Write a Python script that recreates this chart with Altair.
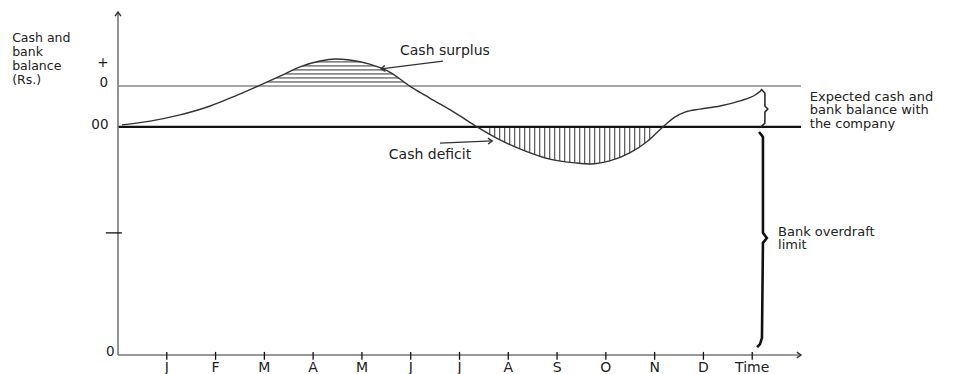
import math
import altair as alt
import pandas as pd

# ---------------- data ----------------
months = ["J", "F", "M", "A", "M", "J", "J", "A", "S", "O", "N", "D", "Time"]
month_pos = list(range(1, 14))

curve_x = [0.08, 0.66, 1.27, 1.89, 2.40, 2.87, 3.32, 3.73, 4.14, 4.45, 4.75, 5.16,
           5.57, 5.98, 6.39, 6.91, 7.36, 7.83, 8.34, 8.85, 9.37, 9.67, 10.08, 10.49,
           10.86, 11.17, 11.42, 11.62, 11.93, 12.34, 12.75, 13.06, 13.20]
curve_y = [67.1, 68.2, 70.0, 72.6, 75.5, 78.4, 81.3, 84.0, 85.7, 86.3, 86.0, 84.8,
           82.5, 78.4, 74.9, 70.6, 66.5, 62.7, 59.5, 57.1, 56.0, 55.7, 56.6, 58.9,
           62.4, 66.5, 69.4, 70.8, 71.7, 72.6, 74.1, 75.8, 77.3]

expected_level = 78.4      # "0" line (expected balance)
zero_level = 66.5          # "00" line
mid_tick_level = 35.6      # tick on the y axis
x_end = 14.0
y_top = 100.0

surplus_range = [2.85, 6.0]
deficit_range = [7.62, 10.94]

y_title = ["Cash and", "bank", "balance", "(Rs.)"]
y_title_y = [92.3, 88.3, 84.3, 80.3]
y_marks = ["+", "0", "00", "0"]
y_marks_x = [-0.31, -0.29, -0.37, -0.16]
y_marks_y = [85.1, 79.3, 67.1, 0.9]

expected_text = ["Expected cash and", "bank balance with", "the company"]
expected_text_y = [75.3, 71.4, 67.3]
overdraft_text = ["Bank overdraft", "limit"]
overdraft_text_y = [36.0, 32.0]

brace1_x = [13.18, 13.26, 13.26, 13.32, 13.26, 13.26, 13.18]
brace1_y = [77.55, 76.4, 72.6, 71.7, 70.8, 67.6, 66.5]
brace2_x = [13.14, 13.22, 13.22, 13.30, 13.22, 13.20, 13.16, 13.10]
brace2_y = [65.0, 63.6, 35.6, 34.1, 32.7, 5.0, 3.2, 2.3]

arrow_tail_x = [6.66, 6.60]
arrow_tail_y = [85.7, 61.8]
arrow_tip_x = [5.39, 7.67]
arrow_tip_y = [83.4, 62.4]

# ---------------- scales ----------------
W, H = 683, 343
xs = alt.Scale(domain=[0, x_end], nice=False, zero=False)
ys = alt.Scale(domain=[0, y_top], nice=False, zero=False)
PX_X = W / x_end
PX_Y = H / y_top


def X(f="x"):
    return alt.X(f"{f}:Q", scale=xs, axis=None)


def Y(f="y"):
    return alt.Y(f"{f}:Q", scale=ys, axis=None)


FONT = "DejaVu Sans"
INK = "#222222"

curve = pd.DataFrame({"x": curve_x, "y": curve_y, "o": range(len(curve_x))})

layers = []

# surplus hatching (horizontal)
step_h = 1.17
levels = []
lv = expected_level + 1.2
while lv < 86.6:
    levels.append(round(lv, 2))
    lv += step_h
hatch_h = pd.DataFrame({"x1": surplus_range[0], "x2": surplus_range[1], "y": levels})
layers.append(alt.Chart(hatch_h).mark_rule(color="#333", strokeWidth=1).encode(
    x=X("x1"), x2="x2:Q", y=Y("y")))

# deficit hatching (vertical)
step_v = 5 / PX_X
xs_v = []
xv = deficit_range[0]
while xv <= deficit_range[1] + 1e-6:
    xs_v.append(round(xv, 3))
    xv += step_v
hatch_v = pd.DataFrame({"x": xs_v, "y1": zero_level, "y2": 53.0})
layers.append(alt.Chart(hatch_v).mark_rule(color="#333", strokeWidth=1).encode(
    x=X("x"), y=Y("y1"), y2="y2:Q"))

# white masks trimming the hatching to the curve
mask_s = curve[(curve.x >= 2.40) & (curve.x <= 6.39)]
layers.append(alt.Chart(mask_s).mark_area(color="white", opacity=1, interpolate="monotone").encode(
    x=X("x"), y=Y("y"), y2=alt.datum(95)))
mask_d = curve[(curve.x >= 7.36) & (curve.x <= 11.17)]
layers.append(alt.Chart(mask_d).mark_area(color="white", opacity=1, interpolate="monotone").encode(
    x=X("x"), y=Y("y"), y2=alt.datum(50)))

# reference lines
lines = pd.DataFrame({"x1": [0, 0], "x2": [x_end, x_end],
                      "y": [expected_level, zero_level], "k": ["exp", "zero"]})
layers.append(alt.Chart(lines[lines.k == "exp"]).mark_rule(color="#888", strokeWidth=1.5).encode(
    x=X("x1"), x2="x2:Q", y=Y("y")))
layers.append(alt.Chart(lines[lines.k == "zero"]).mark_rule(color="#111", strokeWidth=2.2).encode(
    x=X("x1"), x2="x2:Q", y=Y("y")))

# the cash balance curve
layers.append(alt.Chart(curve).mark_line(color="#333", strokeWidth=1.4, interpolate="monotone").encode(
    x=X("x"), y=Y("y"), order="o:Q"))

# axes
axes = pd.DataFrame({"x1": [0, 0], "x2": [x_end, 0], "y1": [0, 0], "y2": [0, y_top]})
layers.append(alt.Chart(axes).mark_rule(color="#777", strokeWidth=1.6).encode(
    x=X("x1"), x2="x2:Q", y=Y("y1"), y2="y2:Q"))

ticks = pd.DataFrame({"x": month_pos, "y1": -1.4, "y2": 0.9, "lab": months, "ly": -3.9})
layers.append(alt.Chart(ticks).mark_rule(color="#111", strokeWidth=1.3).encode(
    x=X("x"), y=Y("y1"), y2="y2:Q"))
layers.append(alt.Chart(ticks).mark_text(font=FONT, fontSize=14, color=INK, baseline="middle").encode(
    x=X("x"), y=Y("ly"), text="lab:N"))

ytick = pd.DataFrame({"x1": [-0.25], "x2": [0.08], "y": [mid_tick_level]})
layers.append(alt.Chart(ytick).mark_rule(color="#111", strokeWidth=1.3).encode(
    x=X("x1"), x2="x2:Q", y=Y("y")))

# axis arrowheads + annotation arrows
heads = [
    {"x": x_end, "y": 0.0, "ang": 0.0},
    {"x": 0.0, "y": y_top, "ang": 270.0},
]
arrows = []
for tx, ty, hx, hy in zip(arrow_tail_x, arrow_tail_y, arrow_tip_x, arrow_tip_y):
    arrows.append({"x1": tx, "y1": ty, "x2": hx, "y2": hy})
    ang = math.degrees(math.atan2(-(hy - ty) * PX_Y, (hx - tx) * PX_X)) % 360
    heads.append({"x": hx, "y": hy, "ang": ang})
arrows = pd.DataFrame(arrows)
heads = pd.DataFrame(heads)
layers.append(alt.Chart(arrows).mark_rule(color="#333", strokeWidth=1.3).encode(
    x=X("x1"), x2="x2:Q", y=Y("y1"), y2="y2:Q"))
layers.append(alt.Chart(heads).mark_point(
    shape="M-1,-0.7L0,0L-1,0.7", filled=False, color="#333", strokeWidth=1.4, size=70, opacity=1
).encode(x=X("x"), y=Y("y"), angle=alt.Angle("ang:Q", scale=None)))

# braces
b1 = pd.DataFrame({"x": brace1_x, "y": brace1_y, "o": range(len(brace1_x))})
b2 = pd.DataFrame({"x": brace2_x, "y": brace2_y, "o": range(len(brace2_x))})
layers.append(alt.Chart(b1).mark_line(color="#222", strokeWidth=1.5).encode(
    x=X("x"), y=Y("y"), order="o:Q"))
layers.append(alt.Chart(b2).mark_line(color="#111", strokeWidth=2.6).encode(
    x=X("x"), y=Y("y"), order="o:Q"))

# texts
texts = []
for t, yy in zip(y_title, y_title_y):
    texts.append({"x": -2.17, "y": yy, "t": t, "al": "left", "fs": 12.5})
for t, xx, yy in zip(y_marks, y_marks_x, y_marks_y):
    texts.append({"x": xx, "y": yy, "t": t, "al": "center", "fs": 13.5})
for t, yy in zip(expected_text, expected_text_y):
    texts.append({"x": 14.18, "y": yy, "t": t, "al": "left", "fs": 13})
for t, yy in zip(overdraft_text, overdraft_text_y):
    texts.append({"x": 13.53, "y": yy, "t": t, "al": "left", "fs": 13})
texts.append({"x": 5.78, "y": 88.6, "t": "Cash surplus", "al": "left", "fs": 14})
texts.append({"x": 7.24, "y": 58.4, "t": "Cash deficit", "al": "right", "fs": 14})
texts = pd.DataFrame(texts)
for al in ["left", "center", "right"]:
    sub = texts[texts.al == al]
    layers.append(alt.Chart(sub).mark_text(
        font=FONT, color=INK, align=al, baseline="middle"
    ).encode(x=X("x"), y=Y("y"), text="t:N", size=alt.Size("fs:Q", scale=None)))

chart = alt.layer(*layers).properties(
    width=W, height=H,
    padding={"left": 110, "top": 4, "right": 164, "bottom": 19},
    autosize=alt.AutoSizeParams(type="none"),
    background="white",
).configure_view(stroke=None)

chart.save("out.html", embed_options={"renderer": "svg", "actions": False})
